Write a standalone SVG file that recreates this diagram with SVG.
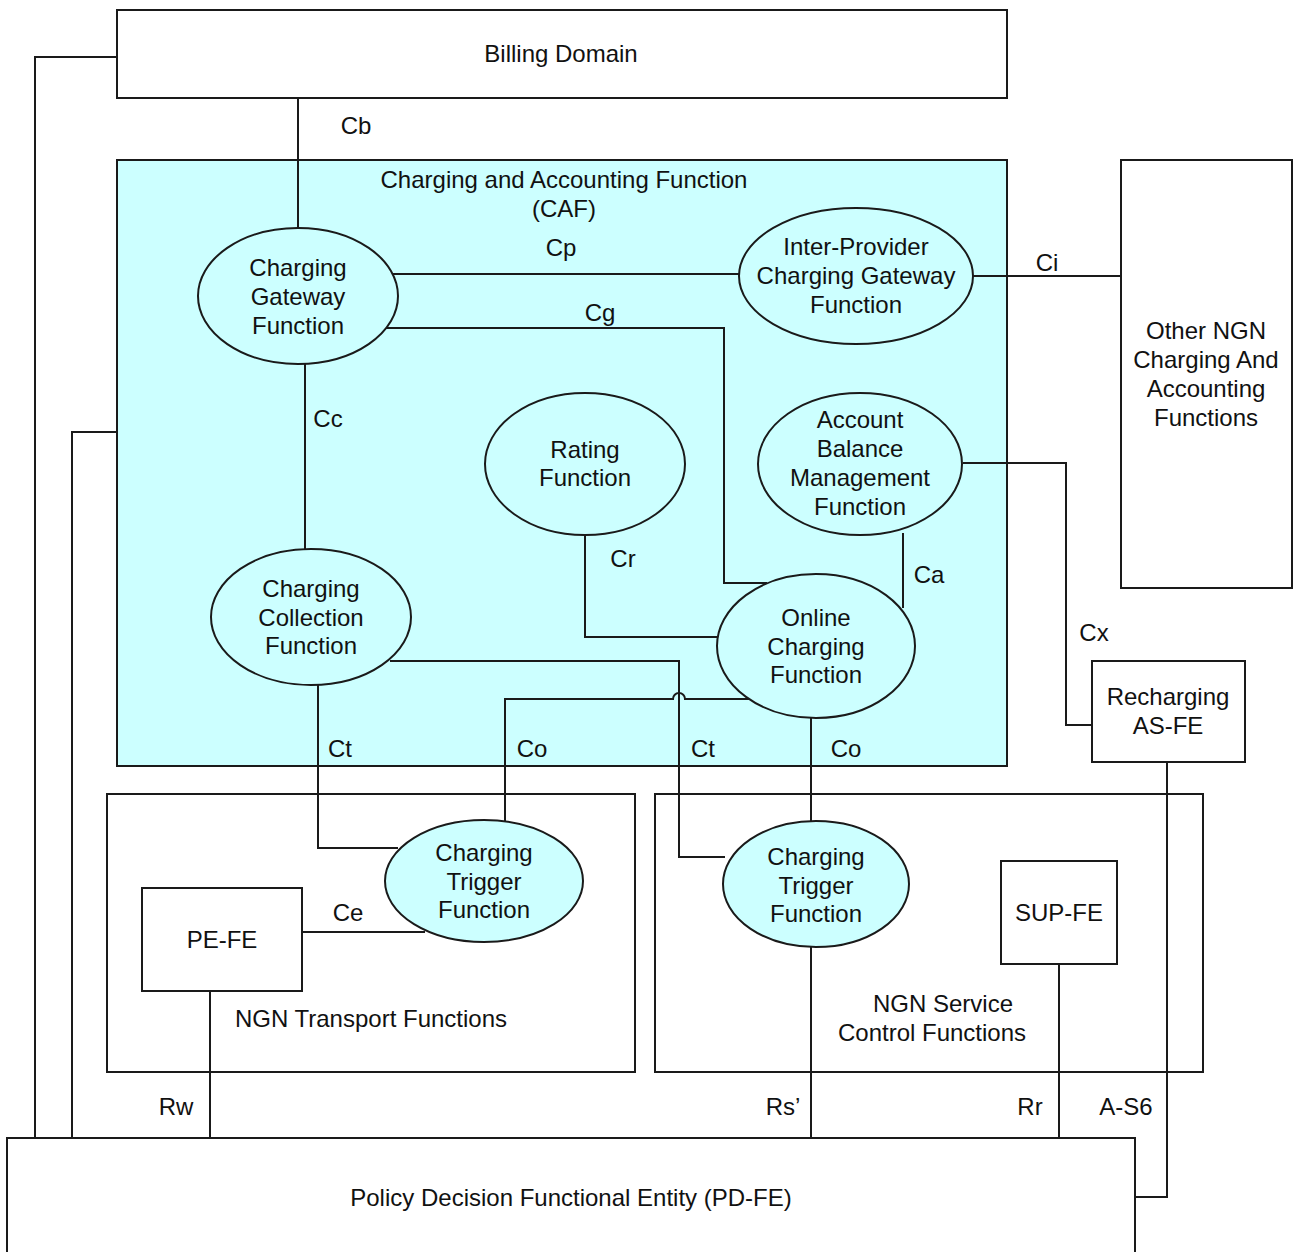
<svg xmlns="http://www.w3.org/2000/svg" width="1294" height="1252" viewBox="0 0 1294 1252">
  <style>
    .box { fill: #ffffff; stroke: #1a1a1a; stroke-width: 2; }
    .caf { fill: #ccffff; stroke: #1a1a1a; stroke-width: 2; }
    .fn { fill: #ccffff; stroke: #1a1a1a; stroke-width: 2; }
    .wire { fill: none; stroke: #1a1a1a; stroke-width: 2; }
    text { font-family: "Liberation Sans", Arial, sans-serif; font-size: 24px; fill: #111; }
    .c { text-anchor: middle; }
  </style>

  <!-- outer frames -->
  <g id="billing-domain">
    <rect class="box" x="117" y="10" width="890" height="88"/>
    <text class="c" x="561" y="62">Billing Domain</text>
  </g>
  <g id="caf">
    <rect class="caf" x="117" y="160" width="890" height="606"/>
    <text class="c" x="564" y="188">Charging and Accounting Function</text>
    <text class="c" x="564" y="217">(CAF)</text>
  </g>
  <g id="ngn-transport">
    <rect class="box" x="107" y="794" width="528" height="278"/>
    <text class="c" x="371" y="1027">NGN Transport Functions</text>
  </g>
  <g id="ngn-service">
    <rect class="box" x="655" y="794" width="548" height="278"/>
    <text class="c" x="943" y="1012">NGN Service</text>
    <text class="c" x="932" y="1041">Control Functions</text>
  </g>
  <g id="other-ngn">
    <rect class="box" x="1121" y="160" width="171" height="428"/>
    <text class="c" x="1206" y="339">Other NGN</text>
    <text class="c" x="1206" y="368">Charging And</text>
    <text class="c" x="1206" y="397">Accounting</text>
    <text class="c" x="1206" y="426">Functions</text>
  </g>
  <g id="pd-fe">
    <rect class="box" x="7" y="1138" width="1128" height="130"/>
    <text class="c" x="571" y="1206">Policy Decision Functional Entity (PD-FE)</text>
  </g>

  <!-- connectors -->
  <g id="connectors">
    <path class="wire" d="M117 57 H35 V1138"/>
    <path class="wire" d="M117 432 H72 V1138"/>
    <path class="wire" d="M298 98 V228"/>
    <path class="wire" d="M393 274 H740"/>
    <path class="wire" d="M973 276 H1121"/>
    <path class="wire" d="M385 328 H724 V583 H767"/>
    <path class="wire" d="M305 364 V549"/>
    <path class="wire" d="M585 535 V637 H718"/>
    <path class="wire" d="M903 533 V608"/>
    <path class="wire" d="M963 463 H1066 V725 H1092"/>
    <path class="wire" d="M1167 762 V1197 H1135"/>
    <path class="wire" d="M318 685 V848 H398"/>
    <path class="wire" d="M390 661 H679 V857 H725"/>
    <path class="wire" d="M752 699 H685 A6 6 0 0 0 673 699 H505 V822"/>
    <path class="wire" d="M811 718 V822"/>
    <path class="wire" d="M302 932 H425"/>
    <path class="wire" d="M210 991 V1138"/>
    <path class="wire" d="M811 947 V1138"/>
    <path class="wire" d="M1059 964 V1138"/>
  </g>

  <!-- interface labels -->
  <g id="labels">
    <text class="c" x="356" y="134">Cb</text>
    <text class="c" x="561" y="256">Cp</text>
    <text class="c" x="1047" y="271">Ci</text>
    <text class="c" x="600" y="321">Cg</text>
    <text class="c" x="328" y="427">Cc</text>
    <text class="c" x="623" y="567">Cr</text>
    <text class="c" x="929" y="583">Ca</text>
    <text class="c" x="1094" y="641">Cx</text>
    <text class="c" x="340" y="757">Ct</text>
    <text class="c" x="532" y="757">Co</text>
    <text class="c" x="703" y="757">Ct</text>
    <text class="c" x="846" y="757">Co</text>
    <text class="c" x="348" y="921">Ce</text>
    <text class="c" x="176" y="1115">Rw</text>
    <text class="c" x="783" y="1115">Rs’</text>
    <text class="c" x="1030" y="1115">Rr</text>
    <text class="c" x="1126" y="1115">A-S6</text>
  </g>

  <!-- functional entities -->
  <g id="charging-gateway">
    <ellipse class="fn" cx="298" cy="296" rx="100" ry="68"/>
    <text class="c" x="298" y="276">Charging</text>
    <text class="c" x="298" y="305">Gateway</text>
    <text class="c" x="298" y="334">Function</text>
  </g>
  <g id="inter-provider">
    <ellipse class="fn" cx="856" cy="276" rx="117" ry="68"/>
    <text class="c" x="856" y="255">Inter-Provider</text>
    <text class="c" x="856" y="284">Charging Gateway</text>
    <text class="c" x="856" y="313">Function</text>
  </g>
  <g id="rating">
    <ellipse class="fn" cx="585" cy="464" rx="100" ry="71"/>
    <text class="c" x="585" y="458">Rating</text>
    <text class="c" x="585" y="486">Function</text>
  </g>
  <g id="account-balance">
    <ellipse class="fn" cx="860" cy="464" rx="102" ry="71"/>
    <text class="c" x="860" y="428">Account</text>
    <text class="c" x="860" y="457">Balance</text>
    <text class="c" x="860" y="486">Management</text>
    <text class="c" x="860" y="515">Function</text>
  </g>
  <g id="charging-collection">
    <ellipse class="fn" cx="311" cy="617" rx="100" ry="68"/>
    <text class="c" x="311" y="597">Charging</text>
    <text class="c" x="311" y="626">Collection</text>
    <text class="c" x="311" y="654">Function</text>
  </g>
  <g id="online-charging">
    <ellipse class="fn" cx="816" cy="646" rx="99" ry="72"/>
    <text class="c" x="816" y="626">Online</text>
    <text class="c" x="816" y="655">Charging</text>
    <text class="c" x="816" y="683">Function</text>
  </g>
  <g id="recharging-as-fe">
    <rect class="box" x="1092" y="661" width="153" height="101"/>
    <text class="c" x="1168" y="705">Recharging</text>
    <text class="c" x="1168" y="734">AS-FE</text>
  </g>
  <g id="transport-trigger">
    <ellipse class="fn" cx="484" cy="881" rx="99" ry="61"/>
    <text class="c" x="484" y="861">Charging</text>
    <text class="c" x="484" y="890">Trigger</text>
    <text class="c" x="484" y="918">Function</text>
  </g>
  <g id="pe-fe">
    <rect class="box" x="142" y="888" width="160" height="103"/>
    <text class="c" x="222" y="948">PE-FE</text>
  </g>
  <g id="service-trigger">
    <ellipse class="fn" cx="816" cy="884" rx="93" ry="63"/>
    <text class="c" x="816" y="865">Charging</text>
    <text class="c" x="816" y="894">Trigger</text>
    <text class="c" x="816" y="922">Function</text>
  </g>
  <g id="sup-fe">
    <rect class="box" x="1001" y="861" width="116" height="103"/>
    <text class="c" x="1059" y="921">SUP-FE</text>
  </g>
</svg>
